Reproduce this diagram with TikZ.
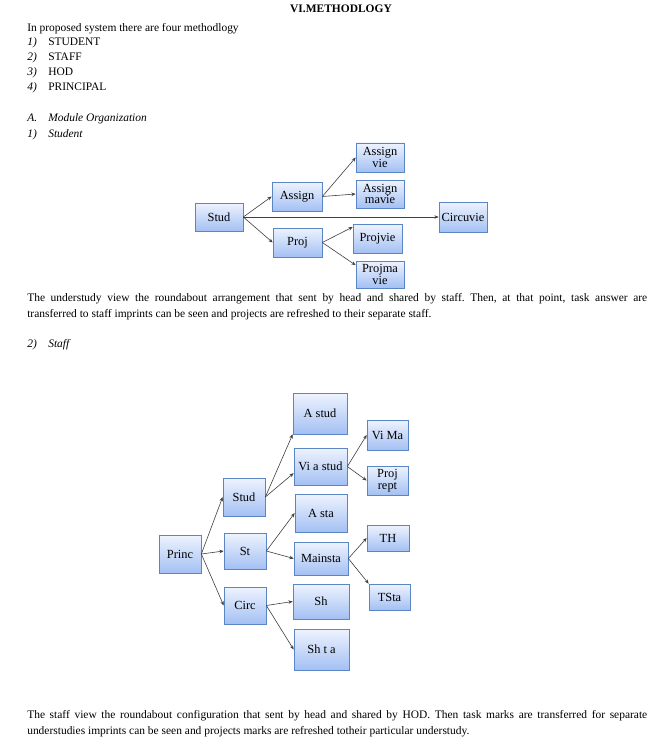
\documentclass[tikz,border=0pt]{standalone}
\usepackage{fontspec}
\setmainfont{Liberation Serif}
\usetikzlibrary{arrows.meta,positioning,shadows}
\definecolor{boxtop}{HTML}{EEF3FE}
\definecolor{boxbot}{HTML}{A3C0F3}
\definecolor{boxline}{HTML}{5B86C4}
\frenchspacing

\begin{document}
\begin{tikzpicture}[x=0.75pt, y=-0.75pt,
  modbox/.style={draw=boxline, line width=0.5pt, top color=boxtop, bottom color=boxbot, inner sep=1pt, align=center, font=\fontsize{9.3}{8.6}\selectfont, drop shadow={shadow xshift=0.7pt, shadow yshift=-0.9pt, fill=black!30, opacity=1}},
  sz/.style 2 args={minimum width=#1*0.75pt, minimum height=#2*0.75pt},
  arr/.style={-{Stealth[length=3.2pt, width=2.6pt]}, black!75, line width=0.45pt},
  txt/.style={anchor=base west, inner sep=0pt, font=\fontsize{8.6}{12}\selectfont}
]
  \useasboundingbox[fill=white] (0,0) rectangle (663,756);

  % heading and list
  \node[txt, anchor=base, font=\fontsize{8.6}{12}\selectfont\bfseries] (title) at (341,13) {VI.METHODLOGY};
  \node[txt] (intro) at (27,32) {In proposed system there are four methodlogy};
  \node[txt] (n1) at (27,46) {\textit{1)}}; \node[txt] (l1) at (48,46) {STUDENT};
  \node[txt] (n2) at (27,61) {\textit{2)}}; \node[txt] (l2) at (48,61) {STAFF};
  \node[txt] (n3) at (27,76) {\textit{3)}}; \node[txt] (l3) at (48,76) {HOD};
  \node[txt] (n4) at (27,91) {\textit{4)}}; \node[txt] (l4) at (48,91) {PRINCIPAL};
  \node[txt] (secA) at (27,122) {\textit{A.}}; \node[txt] (modorg) at (48,122) {\textit{Module Organization}};
  \node[txt] (s1) at (27,138) {\textit{1)}}; \node[txt] (studhd) at (48,138) {\textit{Student}};

  % student module
  \node[modbox, sz={48}{28}] (stud) at (219,217) {Stud};
  \node[modbox, sz={50}{29}] (asg) at (297,196.5) {Assign};
  \node[modbox, sz={49}{29}] (proj) at (297.5,242.5) {Proj};
  \node[modbox, sz={48}{29}] (asgvie) at (380,157.5) {Assign\\vie};
  \node[modbox, sz={48}{28}] (asgmavie) at (380,194) {Assign\\mavie};
  \node[modbox, sz={49}{29}] (projvie) at (377.5,238.5) {Projvie};
  \node[modbox, sz={48}{27}] (projmavie) at (380,274.5) {Projma\\vie};
  \node[modbox, sz={48}{30}] (circuvie) at (463,217) {Circuvie};

  \draw[arr] (stud.east) -- (asg.west);
  \draw[arr] (stud.east) -- (proj.west);
  \draw[arr] (stud.east) -- (circuvie.west);
  \draw[arr] (asg.east) -- (asgvie.west);
  \draw[arr] (asg.east) -- (asgmavie.west);
  \draw[arr] (proj.east) -- ([yshift=8.6pt]projvie.west);
  \draw[arr] (proj.east) -- ([yshift=7pt]projmavie.west);

  \node[txt, text width=465pt, align=justify] (para1) at (27,301) {The understudy view the roundabout arrangement that sent by head and shared by staff. Then, at that point, task answer are\linebreak transferred to staff imprints can be seen and projects are refreshed to their separate staff.};

  \node[txt] (s2) at (27,347) {\textit{2)}}; \node[txt] (staffhd) at (48,347) {\textit{Staff}};

  % staff module
  \node[modbox, sz={42}{38}] (princ) at (180,554) {Princ};
  \node[modbox, sz={42}{38}] (stud2) at (244,497) {Stud};
  \node[modbox, sz={42}{36}] (st) at (245,551) {St};
  \node[modbox, sz={42}{37}] (circ) at (245,605.5) {Circ};
  \node[modbox, sz={54}{41}] (astud) at (320,413.5) {A stud};
  \node[modbox, sz={53}{37}] (viastud) at (320.5,466.5) {Vi a stud};
  \node[modbox, sz={52}{38}] (asta) at (321,513) {A sta};
  \node[modbox, sz={54}{33}] (mainsta) at (321,558.5) {Mainsta};
  \node[modbox, sz={56}{35}] (sh) at (321,601.5) {Sh};
  \node[modbox, sz={55}{41}] (shta) at (321.5,649.5) {Sh t a};
  \node[modbox, sz={41}{30}] (vima) at (387.5,435) {Vi Ma};
  \node[modbox, sz={41}{29}] (projrept) at (387.5,480.5) {Proj\\rept};
  \node[modbox, sz={42}{26}] (th) at (388,538) {TH};
  \node[modbox, sz={41}{26}] (tsta) at (389.5,597) {TSta};

  \draw[arr] (princ.east) -- (stud2.west);
  \draw[arr] (princ.east) -- (st.west);
  \draw[arr] (princ.east) -- (circ.west);
  \draw[arr] (stud2.east) -- (astud.south west);
  \draw[arr] (stud2.east) -- ([yshift=-5pt]viastud.west);
  \draw[arr] (viastud.east) -- (vima.west);
  \draw[arr] (viastud.east) -- (projrept.west);
  \draw[arr] (st.east) -- (asta.west);
  \draw[arr] (st.east) -- (mainsta.west);
  \draw[arr] (mainsta.east) -- (th.west);
  \draw[arr] (mainsta.east) -- (tsta.north west);
  \draw[arr] (circ.east) -- (sh.west);
  \draw[arr] (circ.east) -- (shta.west);

  \node[txt, text width=465pt, align=justify] (para2) at (27,718) {The staff view the roundabout configuration that sent by head and shared by HOD. Then task marks are transferred for separate\linebreak understudies imprints can be seen and projects marks are refreshed totheir particular understudy.};
\end{tikzpicture}
\end{document}
